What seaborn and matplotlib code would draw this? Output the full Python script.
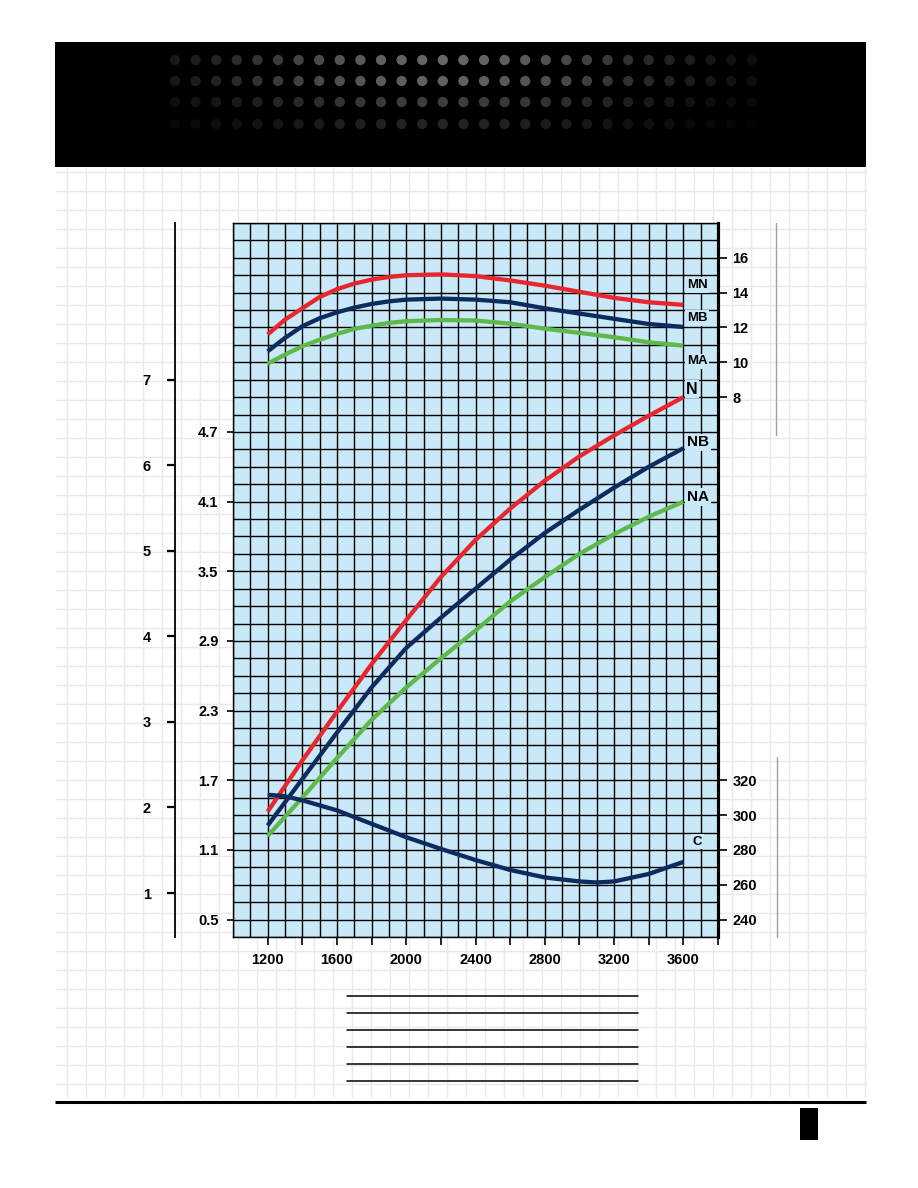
import numpy as np
import pandas as pd
import matplotlib
matplotlib.use("Agg")
import matplotlib.pyplot as plt
from matplotlib.patches import Rectangle
import seaborn as sns

# ---------------- data ----------------
rpm_m = [1200, 1300, 1400, 1500, 1600, 1700, 1800, 1900, 2000, 2200, 2400, 2600, 2800, 3000, 3200, 3400, 3600]
MN = [11.6, 12.45, 13.1, 13.75, 14.2, 14.52, 14.75, 14.9, 15.0, 15.05, 14.95, 14.7, 14.4, 14.05, 13.7, 13.45, 13.3]
MB = [10.63, 11.4, 12.07, 12.53, 12.87, 13.14, 13.35, 13.5, 13.6, 13.66, 13.6, 13.45, 13.1, 12.8, 12.5, 12.2, 12.03]
MA = [9.92, 10.44, 10.92, 11.3, 11.63, 11.92, 12.1, 12.26, 12.36, 12.43, 12.4, 12.22, 11.93, 11.69, 11.44, 11.15, 10.96]
rpm = [1200, 1400, 1600, 1800, 2000, 2200, 2400, 2600, 2800, 3000, 3200, 3400, 3600]
N = [1.43, 1.87, 2.29, 2.70, 3.08, 3.45, 3.77, 4.04, 4.28, 4.49, 4.67, 4.84, 5.0]
NB = [1.31, 1.71, 2.11, 2.50, 2.84, 3.10, 3.35, 3.60, 3.83, 4.03, 4.22, 4.40, 4.56]
NA = [1.22, 1.55, 1.89, 2.22, 2.50, 2.75, 2.99, 3.24, 3.45, 3.65, 3.82, 3.97, 4.10]
rpm_c = [1200, 1300, 1400, 1600, 1800, 2000, 2200, 2400, 2600, 2800, 3000, 3100, 3200, 3400, 3600]
C = [311.7, 310.8, 308.5, 302.7, 295.0, 287.3, 280.6, 274.2, 268.5, 264.2, 261.9, 261.3, 261.9, 266.2, 273.1]

x_ticks = [1200, 1600, 2000, 2400, 2800, 3200, 3600]
inner_left_ticks = [0.5, 1.1, 1.7, 2.3, 2.9, 3.5, 4.1, 4.7]
outer_left_ticks = [1, 2, 3, 4, 5, 6, 7]
right_upper_ticks = [8, 10, 12, 14, 16]
right_lower_ticks = [240, 260, 280, 300, 320]

# ---------------- style ----------------
sns.set_style("ticks")
plt.rcParams['font.family'] = ['Liberation Sans', 'DejaVu Sans']
plt.rcParams['font.weight'] = 'bold'
plt.rcParams['text.color'] = 'black'
plt.rcParams['xtick.color'] = 'black'
plt.rcParams['ytick.color'] = 'black'
plt.rcParams['axes.edgecolor'] = 'black'

RED = "#E8262E"
NAVY = "#0D2B5E"
GREEN = "#5DB94A"
BLUE = "#C9E8F8"

W, H = 918, 1188
fig = plt.figure(figsize=(W / 100, H / 100), dpi=100)
fig.patch.set_facecolor("white")

# ---------------- page decoration (pixel coordinates) ----------------
bg = fig.add_axes([0, 0, 1, 1], zorder=-10)
bg.set_xlim(0, W)
bg.set_ylim(H, 0)
bg.axis("off")
gx = np.arange(66.7, 866, 19.0)
gy = np.arange(172, 1097, 19.0)
bg.vlines(gx, 167, 1097, color="#E9E9E9", lw=1)
bg.hlines(gy, 55, 866, color="#E9E9E9", lw=1)
bg.add_patch(Rectangle((55, 42), 811, 125, facecolor="black", edgecolor="none"))
dot_x = np.arange(175, 765, 20.6)
dot_rows = [60, 81, 102, 124]
row_gain = [1.0, 0.95, 0.6, 0.35]
for ry, gain in zip(dot_rows, row_gain):
    lev = 0.40 * gain * np.exp(-((dot_x - 440) / 220.0) ** 2)
    cols = [(l, l, l) for l in lev]
    bg.scatter(dot_x, [ry] * len(dot_x), s=55, c=cols, marker="o", linewidths=0)
bg.plot([55, 866], [1102, 1102], color="black", lw=2.2, solid_capstyle="butt")
bg.add_patch(Rectangle((800, 1108), 18, 32, facecolor="black", edgecolor="none"))
for yy in [996, 1013, 1030, 1047, 1064, 1081]:
    bg.plot([347, 638], [yy, yy], color="black", lw=1.1)
bg.plot([776, 776], [223, 435], color="#A0A0A0", lw=1)
bg.plot([777, 777], [757, 937], color="#A0A0A0", lw=1)

# ---------------- main chart ----------------
L, R, T, B = 233, 718, 223, 937
ax = fig.add_axes([L / W, 1 - B / H, (R - L) / W, (B - T) / H])
ax.set_facecolor(BLUE)
ax.set_xlim(1000, 3800)
ax.set_ylim(0.35, 6.5)

# fine grid (100 rpm columns, one row = 0.15)
ax.set_xticks(np.arange(1000, 3801, 100), minor=True)
ax.set_yticks(0.35 + 0.15 * np.arange(42), minor=True)
ax.xaxis.remove_overlapping_locs = False
ax.yaxis.remove_overlapping_locs = False
ax.grid(which="minor", color="black", lw=1.0)
ax.grid(which="major", visible=False)
ax.set_axisbelow(True)
ax.tick_params(which="minor", length=0)

xt = list(range(1200, 3801, 200))
ax.set_xticks(xt)
ax.set_xticklabels([str(v) if v in x_ticks else "" for v in xt])
ax.set_yticks(inner_left_ticks)
ax.set_yticklabels([f"{v:.1f}" for v in inner_left_ticks])
ax.tick_params(axis="x", which="major", direction="out", length=5.5, width=1.2, pad=6,
               labelsize=10.5, colors="black")
ax.tick_params(axis="y", which="major", direction="out", length=4.5, width=1.2, pad=6,
               labelsize=10.5, colors="black")
for lab in ax.get_xticklabels() + ax.get_yticklabels():
    lab.set_fontweight("bold")
for s in ["left", "top", "bottom"]:
    ax.spines[s].set_linewidth(1.0)
ax.spines["right"].set_linewidth(2.2)

def draw(axis, xs, ys, color):
    df = pd.DataFrame({"x": xs, "y": ys})
    sns.lineplot(data=df, x="x", y="y", ax=axis, color=color, lw=3.1,
                 solid_capstyle="butt", solid_joinstyle="round", sort=False, legend=False)
    axis.set_xlabel("")
    axis.set_ylabel("")

draw(ax, rpm, N, RED)
draw(ax, rpm, NB, NAVY)
draw(ax, rpm, NA, GREEN)

lbl_box = dict(facecolor=BLUE, edgecolor="none", pad=1.2)
ax.text(3650, 5.07, "N", ha="center", va="center", fontsize=11.5, fontweight="bold", bbox=lbl_box)
ax.text(3685, 4.61, "NB", ha="center", va="center", fontsize=11, fontweight="bold", bbox=lbl_box)
ax.text(3685, 4.14, "NA", ha="center", va="center", fontsize=11, fontweight="bold", bbox=lbl_box)

# outer left scale
ax_out = ax.twinx()
ax_out.set_ylim(0.4854, 8.836)
ax_out.spines["left"].set_visible(True)
ax_out.spines["left"].set_position(("axes", (175 - L) / (R - L)))
ax_out.spines["left"].set_linewidth(1.3)
for s in ["right", "top", "bottom"]:
    ax_out.spines[s].set_visible(False)
ax_out.yaxis.set_ticks_position("left")
ax_out.yaxis.set_label_position("left")
ax_out.set_yticks(outer_left_ticks)
ax_out.set_yticklabels([str(v) for v in outer_left_ticks])
ax_out.tick_params(axis="y", direction="out", length=5.5, width=1.6, pad=12, labelsize=10.5,
                   colors="black")
for lab in ax_out.get_yticklabels():
    lab.set_fontweight("bold")
ax_out.set_ylabel("")

# upper right scale (MN / MB / MA)
ax_r1 = ax.twinx()
ax_r1.set_ylim(-23, 18)
for s in ["left", "top", "bottom"]:
    ax_r1.spines[s].set_visible(False)
ax_r1.spines["right"].set_linewidth(2.2)
ax_r1.set_yticks(right_upper_ticks)
ax_r1.set_yticklabels([str(v) for v in right_upper_ticks])
ax_r1.tick_params(axis="y", direction="out", length=6.5, width=1.2, pad=4, labelsize=10.5,
                  colors="black")
for lab in ax_r1.get_yticklabels():
    lab.set_fontweight("bold")
draw(ax_r1, rpm_m, MN, RED)
draw(ax_r1, rpm_m, MB, NAVY)
draw(ax_r1, rpm_m, MA, GREEN)
ax_r1.text(3679, 14.45, "MN", ha="center", va="center", fontsize=9.5, fontweight="bold", bbox=lbl_box)
ax_r1.text(3679, 12.55, "MB", ha="center", va="center", fontsize=9.5, fontweight="bold", bbox=lbl_box)
ax_r1.text(3679, 10.05, "MA", ha="center", va="center", fontsize=9.5, fontweight="bold", bbox=lbl_box)

# lower right scale (C)
ax_r2 = ax.twinx()
ax_r2.set_ylim(230, 640)
for s in ["left", "top", "bottom"]:
    ax_r2.spines[s].set_visible(False)
ax_r2.spines["right"].set_linewidth(2.2)
ax_r2.set_yticks(right_lower_ticks)
ax_r2.set_yticklabels([str(v) for v in right_lower_ticks])
ax_r2.tick_params(axis="y", direction="out", length=6.5, width=1.2, pad=4, labelsize=10.5,
                  colors="black")
for lab in ax_r2.get_yticklabels():
    lab.set_fontweight("bold")
draw(ax_r2, rpm_c, C, NAVY)
ax_r2.text(3679, 284.7, "C", ha="center", va="center", fontsize=9.5, fontweight="bold", bbox=lbl_box)

fig.savefig("out.png", dpi=100, facecolor="white")
